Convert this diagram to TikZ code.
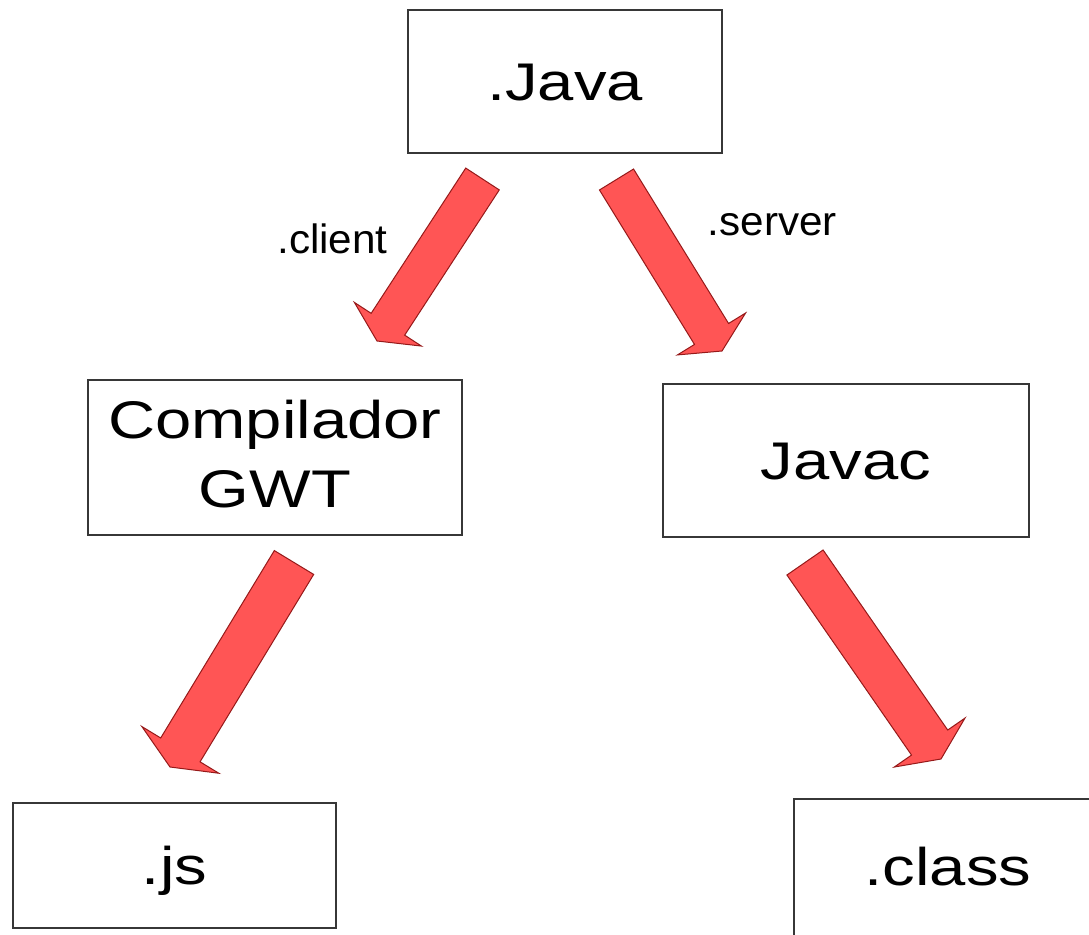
\documentclass[tikz,border=0pt]{standalone}
\usepackage{fontspec}
\setmainfont{Liberation Sans}
\usepackage{graphicx}
\usetikzlibrary{calc}
\definecolor{arrowfill}{RGB}{255,85,85}
\definecolor{arrowline}{RGB}{150,25,25}
\definecolor{boxline}{RGB}{55,55,55}
\newcommand\myblockarrow[5]{%
  \path coordinate (bB) at ($(#2)!#5!(#1)$);
  \draw[blockarrow] ($(#1)!#3!90:(#2)$) -- ($(bB)!#3!-90:(#1)$) -- ($(bB)!#4!-90:(#1)$) -- (#2)
    -- ($(bB)!#4!90:(#1)$) -- ($(bB)!#3!90:(#1)$) -- ($(#1)!#3!-90:(#2)$) -- cycle;}
\newcommand\wide[1]{\scalebox{1.23}[1]{#1}}
\begin{document}
\begin{tikzpicture}[x=1pt,y=-1pt,
  box/.style={draw=boxline, line width=2pt, fill=white, inner sep=0pt,
    font=\fontsize{53}{69}\selectfont, align=center},
  one/.style={text height=38pt, text depth=0pt},
  lbl/.style={font=\fontsize{41}{45}\selectfont, anchor=base, inner sep=0pt},
  blockarrow/.style={fill=arrowfill, draw=arrowline, line width=1pt, line join=miter}]
\useasboundingbox (0,0) rectangle (1089,934);
\clip (0,0) rectangle (1089,934);
\fill[white] (0,0) rectangle (1089,934);

\node[box, one, minimum width=314pt, minimum height=143pt] (java) at (565,81.5) {\wide{.Java}};
\node[box, minimum width=374pt, minimum height=155pt] (gwt) at (275,457.5) {};
\node[inner sep=0pt, font=\fontsize{53}{69}\selectfont, align=center] (gwttext) at (275,454) {\wide{Compilador}\\\wide{GWT}};
\node[box, one, minimum width=366pt, minimum height=153pt] (javac) at (846,460.5) {\wide{Javac}};
\node[box, one, minimum width=323pt, minimum height=125pt] (js) at (174.5,865.5) {\wide{.js}};
\node[box, text height=38pt, text depth=12pt, minimum width=308pt, minimum height=146pt] (class) at (948,872) {\wide{.class}};

\node[lbl] (client) at (332.5,253) {\scalebox{1.03}[1]{.client}};
\node[lbl] (server) at (772.5,235) {\scalebox{1.03}[1]{.server}};

\coordinate (t1) at (482.5,179); \coordinate (p1) at (377,341);
\coordinate (t2) at (616.5,179.5); \coordinate (p2) at (722,351);
\coordinate (t3) at (294,562.5); \coordinate (p3) at (170,767);
\coordinate (t4) at (805,562.5); \coordinate (p4) at (941,759);
\myblockarrow{t1}{p1}{20pt}{40pt}{20pt}
\myblockarrow{t2}{p2}{20pt}{40pt}{20pt}
\myblockarrow{t3}{p3}{23pt}{45pt}{20pt}
\myblockarrow{t4}{p4}{22pt}{43pt}{20pt}
\end{tikzpicture}
\end{document}
